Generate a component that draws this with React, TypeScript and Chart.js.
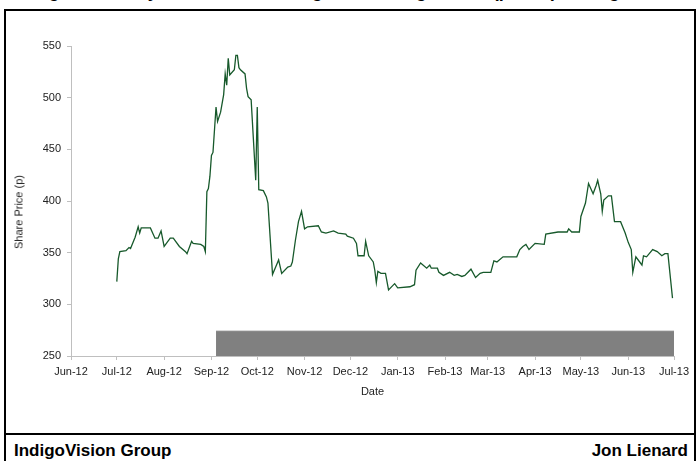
import React, { useEffect, useRef } from "react";
import { Chart, registerables } from "chart.js";

Chart.register(...registerables);

// ---- data ----
const priceDates: string[] = [
  "2012-07-01","2012-07-02","2012-07-03","2012-07-07","2012-07-09","2012-07-10","2012-07-13","2012-07-15","2012-07-16","2012-07-17","2012-07-23","2012-07-26","2012-07-28","2012-07-30",
  "2012-08-01","2012-08-02","2012-08-05","2012-08-07","2012-08-11","2012-08-15","2012-08-16","2012-08-19","2012-08-20","2012-08-25","2012-08-27","2012-08-28","2012-08-29","2012-08-30","2012-08-31",
  "2012-09-01","2012-09-02","2012-09-04","2012-09-05","2012-09-07","2012-09-09","2012-09-10","2012-09-11","2012-09-12","2012-09-13","2012-09-16","2012-09-17","2012-09-18","2012-09-19","2012-09-20","2012-09-23","2012-09-24","2012-09-25","2012-09-27","2012-09-30",
  "2012-10-01","2012-10-02","2012-10-05","2012-10-07","2012-10-08","2012-10-11","2012-10-13","2012-10-15","2012-10-17","2012-10-21","2012-10-23","2012-10-24","2012-10-26","2012-10-28","2012-10-30",
  "2012-11-01","2012-11-03","2012-11-10","2012-11-12","2012-11-15","2012-11-20","2012-11-23","2012-11-28","2012-11-29",
  "2012-12-03","2012-12-05","2012-12-06","2012-12-10","2012-12-11","2012-12-13","2012-12-16","2012-12-17","2012-12-18","2012-12-19","2012-12-21","2012-12-24","2012-12-26","2012-12-30",
  "2013-01-01","2013-01-09","2013-01-12","2013-01-13","2013-01-16","2013-01-20","2013-01-22","2013-01-23","2013-01-27","2013-01-28","2013-01-31",
  "2013-02-04","2013-02-07","2013-02-09","2013-02-12","2013-02-14","2013-02-18","2013-02-21","2013-02-24","2013-02-26",
  "2013-03-03","2013-03-05","2013-03-07","2013-03-11","2013-03-20","2013-03-22","2013-03-24","2013-03-26","2013-03-28",
  "2013-04-01","2013-04-07","2013-04-08","2013-04-16","2013-04-22","2013-04-23","2013-04-25","2013-04-30",
  "2013-05-01","2013-05-04","2013-05-06","2013-05-09","2013-05-11","2013-05-12","2013-05-14","2013-05-15","2013-05-16","2013-05-19","2013-05-21","2013-05-23","2013-05-27","2013-05-30",
  "2013-06-01","2013-06-03","2013-06-04","2013-06-06","2013-06-09","2013-06-10","2013-06-11","2013-06-13","2013-06-17","2013-06-20","2013-06-23","2013-06-25","2013-06-27","2013-06-30",
];

const sharePrices: number[] = [
  322,344,351,352,355,354,365,375,369,374,374,364,364,371,
  356,358,364,364,356,351,349,361,359,358,356,351,409,412,424,
  444,447,491,477,486,503,523,512,538,522,527,541,541,529,527,523,509,501,498,420,
  491,411,410,404,398,329,336,343,330,336,337,341,362,380,390,
  373,375,376,370,369,371,369,368,366,
  364,359,347,347,361,347,341,333,321,332,330,330,314,320,
  316,317,319,333,340,335,338,335,335,331,328,
  331,328,329,327,328,334,326,330,331,
  331,342,341,346,346,353,356,358,353,
  359,358,368,370,370,373,370,370,
  385,398,417,407,415,420,407,390,401,405,405,380,380,369,
  360,353,331,346,340,338,347,346,353,351,347,349,349,306,
];

const periodDates: string[] = ["2012-09-04", "2013-07-01"];
const periodValues: number[] = [274, 274];

const monthStarts: string[] = [
  "2012-06-01","2012-07-01","2012-08-01","2012-09-01","2012-10-01","2012-11-01","2012-12-01",
  "2013-01-01","2013-02-01","2013-03-01","2013-04-01","2013-05-01","2013-06-01","2013-07-01",
];
const monthLabels: string[] = [
  "Jun-12","Jul-12","Aug-12","Sep-12","Oct-12","Nov-12","Dec-12",
  "Jan-13","Feb-13","Mar-13","Apr-13","May-13","Jun-13","Jul-13",
];

const chartTitle = "Key Trading Data: Daily Share Price during the Holding Period (pence) – IndigoVision Group";
const yAxisTitle = "Share Price (p)";
const xAxisTitle = "Date";
const companyName = "IndigoVision Group";
const authorName = "Jon Lienard";

// ---- helpers ----
const BASE = Date.UTC(2012, 5, 1);
const dayOf = (s: string) => {
  const [y, m, d] = s.split("-").map(Number);
  return (Date.UTC(y, m - 1, d) - BASE) / 86400000;
};

const FONT = "'Liberation Sans', Arial, Helvetica, sans-serif";

export default function App() {
  const canvasRef = useRef<HTMLCanvasElement | null>(null);

  useEffect(() => {
    const canvas = canvasRef.current;
    if (!canvas) return;
    const tickDays = monthStarts.map(dayOf);
    const labelMap = new Map<number, string>();
    tickDays.forEach((d, i) => labelMap.set(d, monthLabels[i]));

    const chart = new Chart(canvas, {
      type: "line",
      data: {
        datasets: [
          {
            label: "Share Price",
            data: priceDates.map((d, i) => ({ x: dayOf(d), y: sharePrices[i] })),
            borderColor: "#17592b",
            borderWidth: 1.3,
            pointRadius: 0,
            tension: 0,
            fill: false,
            order: 1,
          },
          {
            label: "Period",
            data: periodDates.map((d, i) => ({ x: dayOf(d), y: periodValues[i] })),
            borderColor: "#808080",
            backgroundColor: "#808080",
            borderWidth: 1,
            pointRadius: 0,
            fill: { value: 250 },
            order: 2,
          },
        ],
      },
      options: {
        responsive: false,
        animation: false,
        devicePixelRatio: window.devicePixelRatio || 1,
        layout: { padding: { left: 0, right: 18, top: 35, bottom: 32 } },
        plugins: {
          legend: { display: false },
          tooltip: { enabled: false },
        },
        scales: {
          x: {
            type: "linear",
            min: 0,
            max: dayOf("2013-07-01"),
            afterBuildTicks: (scale: any) => {
              scale.ticks = tickDays.map((v) => ({ value: v }));
            },
            afterFit: (scale: any) => {
              scale.height = 45;
            },
            ticks: {
              autoSkip: false,
              maxRotation: 0,
              minRotation: 0,
              padding: 5,
              color: "#222",
              font: { family: FONT, size: 11 },
              callback: (v: any) => labelMap.get(Number(v)) ?? "",
            },
            grid: {
              display: true,
              drawOnChartArea: false,
              drawTicks: true,
              tickLength: 4,
              color: "#bfbfbf",
            },
            border: { display: true, color: "#bfbfbf", width: 1 },
            title: {
              display: true,
              text: xAxisTitle,
              color: "#222",
              font: { family: FONT, size: 11 },
              padding: { top: 0, bottom: 2 },
            },
          },
          y: {
            min: 250,
            max: 550,
            afterFit: (scale: any) => {
              scale.width = 65;
            },
            ticks: {
              stepSize: 50,
              padding: 6,
              color: "#222",
              font: { family: FONT, size: 11 },
            },
            grid: {
              display: true,
              drawOnChartArea: false,
              drawTicks: true,
              tickLength: 4,
              color: "#bfbfbf",
            },
            border: { display: true, color: "#bfbfbf", width: 1 },
            title: { display: false },
          },
        },
      },
    } as any);
    return () => chart.destroy();
  }, []);

  return (
    <div
      style={{
        position: "fixed",
        left: 0,
        top: 0,
        width: 700,
        height: 461,
        overflow: "hidden",
        background: "#fff",
        fontFamily: FONT,
      }}
    >
      <div
        style={{
          position: "absolute",
          top: -18,
          left: -100,
          width: 900,
          textAlign: "center",
          fontSize: 18,
          lineHeight: "18px",
          fontWeight: "bold",
          whiteSpace: "nowrap",
          color: "#000",
        }}
      >
        {chartTitle}
      </div>
      <div
        style={{
          position: "absolute",
          left: 4,
          top: 9,
          width: 692,
          height: 480,
          boxSizing: "border-box",
          border: "2px solid #000",
        }}
      >
        <div style={{ position: "absolute", left: 0, top: 0, width: 688, height: 422 }}>
          <canvas ref={canvasRef} width={688} height={422} style={{ width: 688, height: 422, display: "block" }} />
        </div>
        <div
          style={{
            position: "absolute",
            left: 13,
            top: 201,
            transform: "translate(-50%, -50%) rotate(-90deg)",
            fontSize: 11,
            lineHeight: "13px",
            color: "#222",
            whiteSpace: "nowrap",
          }}
        >
          {yAxisTitle}
        </div>
        <div style={{ position: "absolute", left: 0, top: 422, width: 688, height: 2, background: "#000" }} />
        <div
          style={{
            position: "absolute",
            left: 8,
            top: 431,
            fontSize: 17,
            lineHeight: "17px",
            fontWeight: "bold",
            color: "#000",
            whiteSpace: "nowrap",
          }}
        >
          {companyName}
        </div>
        <div
          style={{
            position: "absolute",
            right: 6,
            top: 431,
            fontSize: 17,
            lineHeight: "17px",
            fontWeight: "bold",
            color: "#000",
            whiteSpace: "nowrap",
          }}
        >
          {authorName}
        </div>
      </div>
    </div>
  );
}
